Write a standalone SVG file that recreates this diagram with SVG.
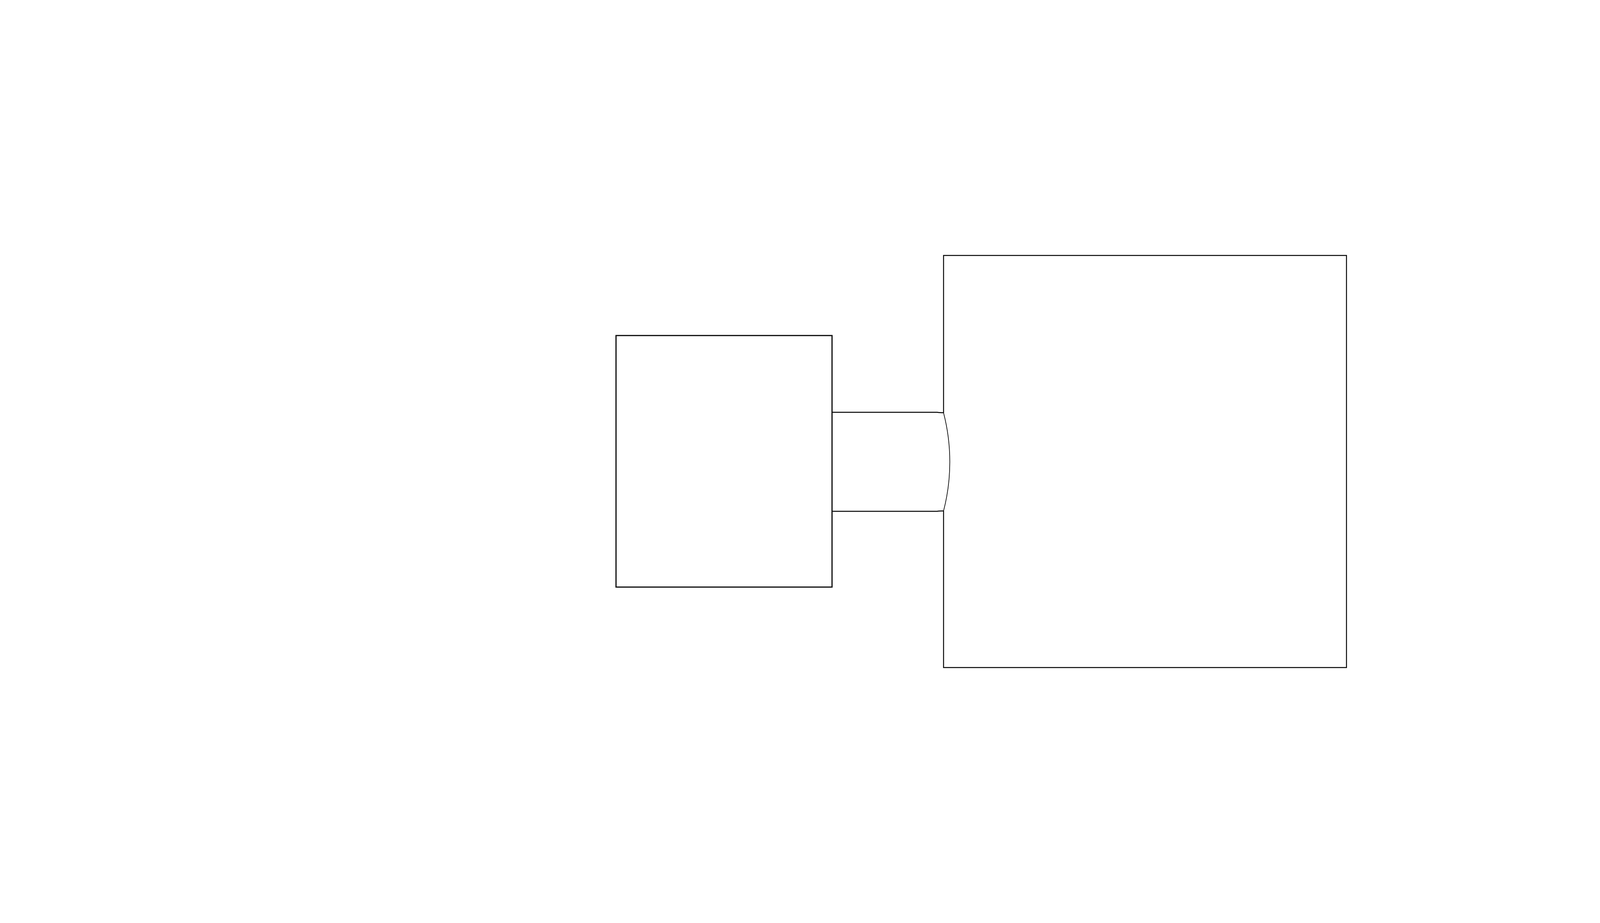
<svg xmlns="http://www.w3.org/2000/svg" width="5000" height="2363" viewBox="0 0 5000 2363">
<style>
.box{fill:none;stroke:#000}
.ln{fill:none;stroke:#000;stroke-width:2.3}
.arc{fill:none;stroke:#000;stroke-width:1.7}
</style>
<rect width="5000" height="2363" fill="#fff"/>
<g id="left-node"><rect class="box" stroke-width="2.9" x="1577" y="859" width="553" height="644"/></g>
<g id="right-node"><path class="box" stroke-width="2.4" stroke-linejoin="miter" d="M2415.5 1057 L2415.5 654 L3447 654 L3447 1709 L2415.5 1709 L2415.5 1308"/></g>
<g id="connectors">
<path class="ln" d="M2130 1055.5 L2399 1055.5 Q2405 1056.5 2415.5 1056.5"/>
<path class="ln" d="M2130 1309 L2399 1309 Q2405 1308 2415.5 1308"/>
<path class="arc" d="M2415.5 1057 A500 500 0 0 1 2415.5 1308"/>
</g>
</svg>
